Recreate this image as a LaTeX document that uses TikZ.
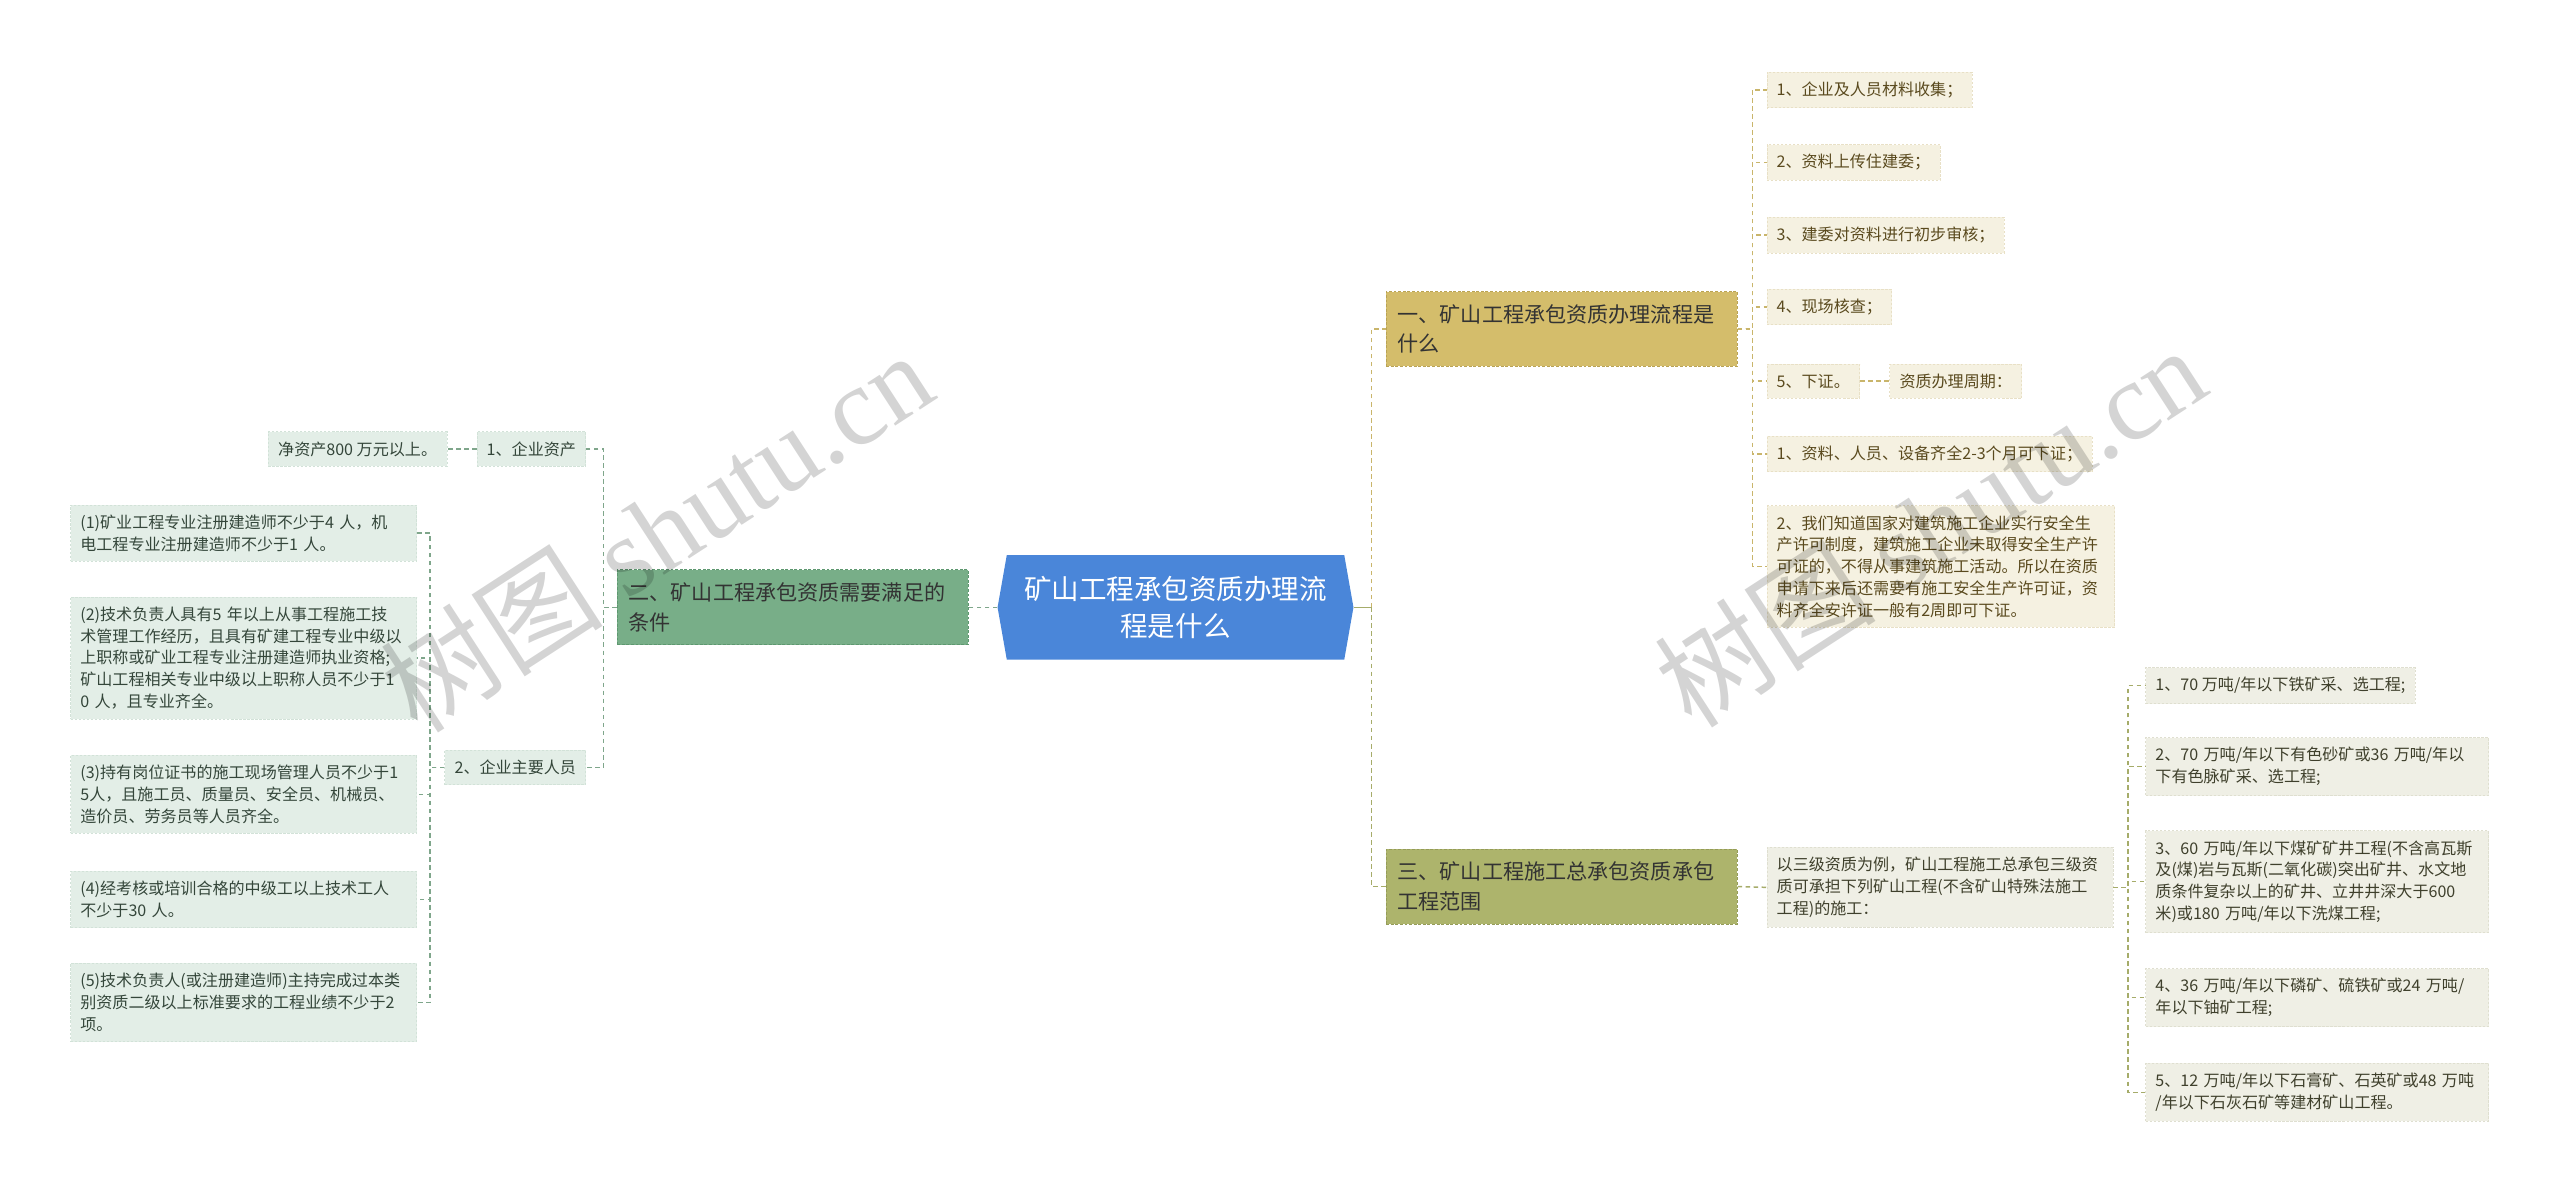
\documentclass[tikz,border=0pt]{standalone}
\usepackage{fontspec}
\setmainfont{Noto Sans CJK SC}
\newfontfamily\wmlatin{Liberation Serif}
\usetikzlibrary{positioning, shapes.symbols}

\definecolor{rootblue}{HTML}{4A86D9}
\definecolor{greenmain}{HTML}{78AE88}
\definecolor{greenedge}{HTML}{5E9870}
\definecolor{greenleaf}{HTML}{E3EEE7}
\definecolor{greenleafedge}{HTML}{D2E2D8}
\definecolor{greentext}{HTML}{34463A}
\definecolor{greenline}{HTML}{7FA68B}
\definecolor{goldmain}{HTML}{D4BD6B}
\definecolor{goldedge}{HTML}{B9A354}
\definecolor{goldleaf}{HTML}{F5F1E1}
\definecolor{goldleafedge}{HTML}{E8E0C6}
\definecolor{goldtext}{HTML}{5A4A1E}
\definecolor{goldline}{HTML}{C9B56B}
\definecolor{olivemain}{HTML}{ADB46C}
\definecolor{oliveedge}{HTML}{959C58}
\definecolor{oliveleaf}{HTML}{EFEFE5}
\definecolor{oliveleafedge}{HTML}{DFDFD0}
\definecolor{olivetext}{HTML}{3F402C}
\definecolor{oliveline}{HTML}{A6AC6A}

\begin{document}
\begin{tikzpicture}[x=0.05cm, y=-0.05cm,
    root/.style={signal, signal to=east and west, signal pointer angle=160,
        fill=rootblue, text=white, align=center, minimum width=10.9cm,
        minimum height=3.2cm, font=\fontsize{24}{32}\selectfont},
    branch/.style={rectangle, align=left, text width=10.05cm, inner xsep=0.35cm,
        inner ysep=0.4cm, line width=0.7pt, dash pattern=on 2.5pt off 1.5pt,
        text=black!80, font=\fontsize{18.4}{25.5}\selectfont},
    leaf/.style={rectangle, align=left, inner xsep=0.3cm, inner ysep=0.3cm,
        line width=0.6pt, dash pattern=on 2pt off 1.5pt,
        font=\fontsize{14}{19}\selectfont},
    gleaf/.style={leaf, fill=greenleaf, draw=greenleafedge, text=greentext},
    yleaf/.style={leaf, fill=goldleaf, draw=goldleafedge, text=goldtext},
    oleaf/.style={leaf, fill=oliveleaf, draw=oliveleafedge, text=olivetext},
    gconn/.style={draw=greenline, line width=1.3pt, dash pattern=on 4pt off 3pt},
    yconn/.style={draw=goldline, line width=1.3pt, dash pattern=on 4pt off 3pt},
    oconn/.style={draw=oliveline, line width=1.3pt, dash pattern=on 4pt off 3pt},
    watermark/.style={rotate=33, text=black, opacity=0.17, font=\fontsize{97}{97}\selectfont}]
    \useasboundingbox (0,0) rectangle (1568,730);

    % Central topic
    \node[root] (Root) at (720,372) {矿山工程承包资质办理流\\程是什么};

    % Main branches
    \node[branch, fill=greenmain, draw=greenedge] (B2) at (485.5,372) {二、矿山工程承包资质需要满足的\\条件};
    \node[branch, fill=goldmain, draw=goldedge] (B1) at (956.5,201.5) {一、矿山工程承包资质办理流程是\\什么};
    \node[branch, fill=olivemain, draw=oliveedge] (B3) at (956.5,543) {三、矿山工程施工总承包资质承包\\工程范围};

    % Left side: conditions
    \node[gleaf, anchor=east] (A1) at (359,275) {1、企业资产};
    \node[gleaf, left=0.9cm of A1] (A1V) {净资产800 万元以上。};
    \node[gleaf, anchor=east] (A2) at (359,470) {2、企业主要人员};
    \node[gleaf, anchor=west, text width=10cm] (P1) at (43,326.5) {(1)矿业工程专业注册建造师不少于4~人，机\\电工程专业注册建造师不少于1~人。};
    \node[gleaf, anchor=west, text width=10cm] (P2) at (43,403) {(2)技术负责人具有5~年以上从事工程施工技\\术管理工作经历，且具有矿建工程专业中级以\\上职称或矿业工程专业注册建造师执业资格;\\矿山工程相关专业中级以上职称人员不少于1\\0~人，且专业齐全。};
    \node[gleaf, anchor=west, text width=10cm] (P3) at (43,486.5) {(3)持有岗位证书的施工现场管理人员不少于1\\5人，且施工员、质量员、安全员、机械员、\\造价员、劳务员等人员齐全。};
    \node[gleaf, anchor=west, text width=10cm] (P4) at (43,551) {(4)经考核或培训合格的中级工以上技术工人\\不少于30~人。};
    \node[gleaf, anchor=west, text width=10cm] (P5) at (43,614) {(5)技术负责人(或注册建造师)主持完成过本类\\别资质二级以上标准要求的工程业绩不少于2\\项。};

    % Right side: procedure
    \node[yleaf, anchor=west] (R1) at (1082,55) {1、企业及人员材料收集；};
    \node[yleaf, anchor=west] (R2) at (1082,99.5) {2、资料上传住建委；};
    \node[yleaf, anchor=west] (R3) at (1082,144) {3、建委对资料进行初步审核；};
    \node[yleaf, anchor=west] (R4) at (1082,188) {4、现场核查；};
    \node[yleaf, anchor=west] (R5) at (1082,233.5) {5、下证。};
    \node[yleaf, right=0.9cm of R5] (R5A) {资质办理周期：};
    \node[yleaf, anchor=west] (R6) at (1082,278) {1、资料、人员、设备齐全2-3个月可下证；};
    \node[yleaf, anchor=west, text width=10.05cm] (R7) at (1082,347) {2、我们知道国家对建筑施工企业实行安全生\\产许可制度，建筑施工企业未取得安全生产许\\可证的，不得从事建筑施工活动。所以在资质\\申请下来后还需要有施工安全生产许可证，资\\料齐全安许证一般有2周即可下证。};

    % Right side: scope
    \node[oleaf, anchor=west, text width=10cm] (S0) at (1082,543.5) {以三级资质为例，矿山工程施工总承包三级资\\质可承担下列矿山工程(不含矿山特殊法施工\\工程)的施工：};
    \node[oleaf, anchor=west] (S1) at (1314,420) {1、70 万吨/年以下铁矿采、选工程;};
    \node[oleaf, anchor=west, text width=9.9cm] (S2) at (1314,469.5) {2、70~万吨/年以下有色砂矿或36~万吨/年以\\下有色脉矿采、选工程;};
    \node[oleaf, anchor=west, text width=9.9cm] (S3) at (1314,540) {3、60~万吨/年以下煤矿矿井工程(不含高瓦斯\\及(煤)岩与瓦斯(二氧化碳)突出矿井、水文地\\质条件复杂以上的矿井、立井井深大于600\\米)或180~万吨/年以下洗煤工程;};
    \node[oleaf, anchor=west, text width=9.9cm] (S4) at (1314,611) {4、36~万吨/年以下磷矿、硫铁矿或24~万吨/\\年以下铀矿工程;};
    \node[oleaf, anchor=west, text width=9.9cm] (S5) at (1314,669) {5、12~万吨/年以下石膏矿、石英矿或48~万吨\\/年以下石灰石矿等建材矿山工程。};

    % Draw connectors from the central topic
    \coordinate (RJ) at (840,372);
    \draw[gconn] (Root.west) -- (B2.east);
    \draw[draw=oliveline, line width=1.4pt] (Root.east) -- (RJ);
    \draw[yconn] (RJ) |- (B1.west);
    \draw[oconn] (RJ) |- (B3.west);

    % Draw left connectors
    \draw[gconn] (B2.west) -- ++(-8,0) |- (A1.east);
    \draw[gconn] (B2.west) -- ++(-8,0) |- (A2.east);
    \draw[gconn] (A1.west) -- (A1V.east);
    \foreach \p in {P1,P2,P3,P4,P5}
        \draw[gconn] (A2.west) -- ++(-9,0) |- (\p.east);

    % Draw right connectors
    \foreach \r in {R1,R2,R3,R4,R5,R6,R7}
        \draw[yconn] (B1.east) -- ++(9,0) |- (\r.west);
    \draw[yconn] (R5.east) -- (R5A.west);
    \draw[oconn] (B3.east) -- (S0.west);
    \foreach \s in {S1,S2,S3,S4,S5}
        \draw[oconn] (S0.east) -- ++(9,0) |- (\s.west);

    % Watermarks
    \node[watermark] (WL) at (402,325) {树图 {\wmlatin shutu.cn}};
    \node[watermark] (WR) at (1182,322) {树图 {\wmlatin shutu.cn}};
\end{tikzpicture}
\end{document}
